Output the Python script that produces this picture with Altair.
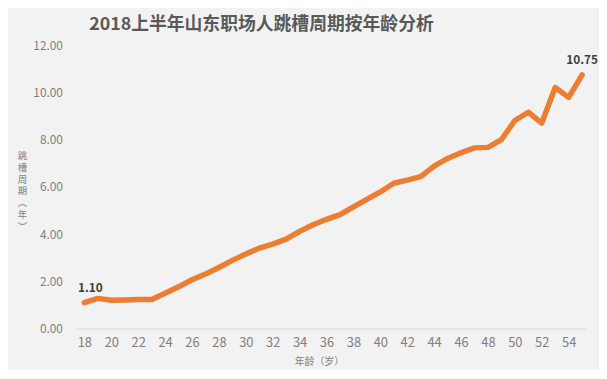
import altair as alt
import pandas as pd

ages = list(range(18, 56))
cycle = [1.10, 1.28, 1.20, 1.21, 1.23, 1.23, 1.50, 1.77, 2.07, 2.31,
         2.59, 2.89, 3.16, 3.41, 3.58, 3.79, 4.12, 4.40, 4.63, 4.83,
         5.16, 5.48, 5.79, 6.16, 6.29, 6.44, 6.89, 7.21, 7.45, 7.66,
         7.68, 8.01, 8.82, 9.17, 8.71, 10.22, 9.80, 10.75]
x_ticks = list(range(18, 56, 2))
y_ticks = [0, 2, 4, 6, 8, 10, 12]

df = pd.DataFrame({"age": ages, "cycle": cycle})

FONT = "Noto Sans CJK SC"

x_enc = alt.X(
    "age:Q",
    scale=alt.Scale(domain=[17.4, 55.3], nice=False, zero=False),
    axis=alt.Axis(
        values=x_ticks, grid=False, ticks=False, domain=True,
        domainColor="#d9d9d9", domainWidth=1,
        labelFontSize=13, labelColor="#7f7f7f", labelPadding=8,
        labelFont=FONT, labelFlush=False, labelOverlap=False,
        title="年龄（岁）", titleFont=FONT, titleFontSize=10,
        titleFontWeight="normal", titleColor="#7f7f7f",
        titleX=245, titleY=33, titleBaseline="middle",
    ),
)
y_enc = alt.Y(
    "cycle:Q",
    scale=alt.Scale(domain=[0, 12], nice=False),
    axis=alt.Axis(
        values=y_ticks, format=".2f", grid=False, ticks=False, domain=False,
        labelFontSize=12, labelColor="#7f7f7f", labelPadding=14,
        labelFont=FONT,
        title=["跳", "槽", "周", "期", "︵", "年", "︶"],
        titleAngle=0, titleFont=FONT, titleFontSize=9.5,
        titleFontWeight="normal", titleColor="#7f7f7f",
        titleX=-55, titleY=106, titleAlign="center", titleBaseline="top",
        titleLineHeight=12,
    ),
)

line = alt.Chart(df).mark_line(
    color="#ED7D31", strokeWidth=5.5, strokeJoin="round", strokeCap="round"
).encode(x=x_enc, y=y_enc)

label_style = dict(font=FONT, fontSize=12, fontWeight="bold", color="#404040",
                   dy=-15, align="center")

first_label = alt.Chart(df).transform_filter("datum.age == 18").mark_text(
    dx=6, **label_style
).encode(x=x_enc, y=y_enc, text=alt.Text("cycle:Q", format=".2f"))

last_label = alt.Chart(df).transform_filter("datum.age == 55").mark_text(
    dx=0, **label_style
).encode(x=x_enc, y=y_enc, text=alt.Text("cycle:Q", format=".2f"))

chart = alt.layer(line, first_label, last_label).properties(
    width=515,
    height=286,
    autosize=alt.AutoSizeParams(type="none"),
    padding={"left": 69, "top": 36, "right": 13, "bottom": 40},
    title=alt.TitleParams(
        "2018上半年山东职场人跳槽周期按年龄分析",
        font=FONT, fontSize=18, fontWeight="bold", color="#595959",
        anchor="start", frame="group", dx=13, offset=6,
    ),
).configure(background="#f2f2f2").configure_view(stroke=None)

chart.save("out.html", embed_options={"renderer": "svg", "actions": False})
